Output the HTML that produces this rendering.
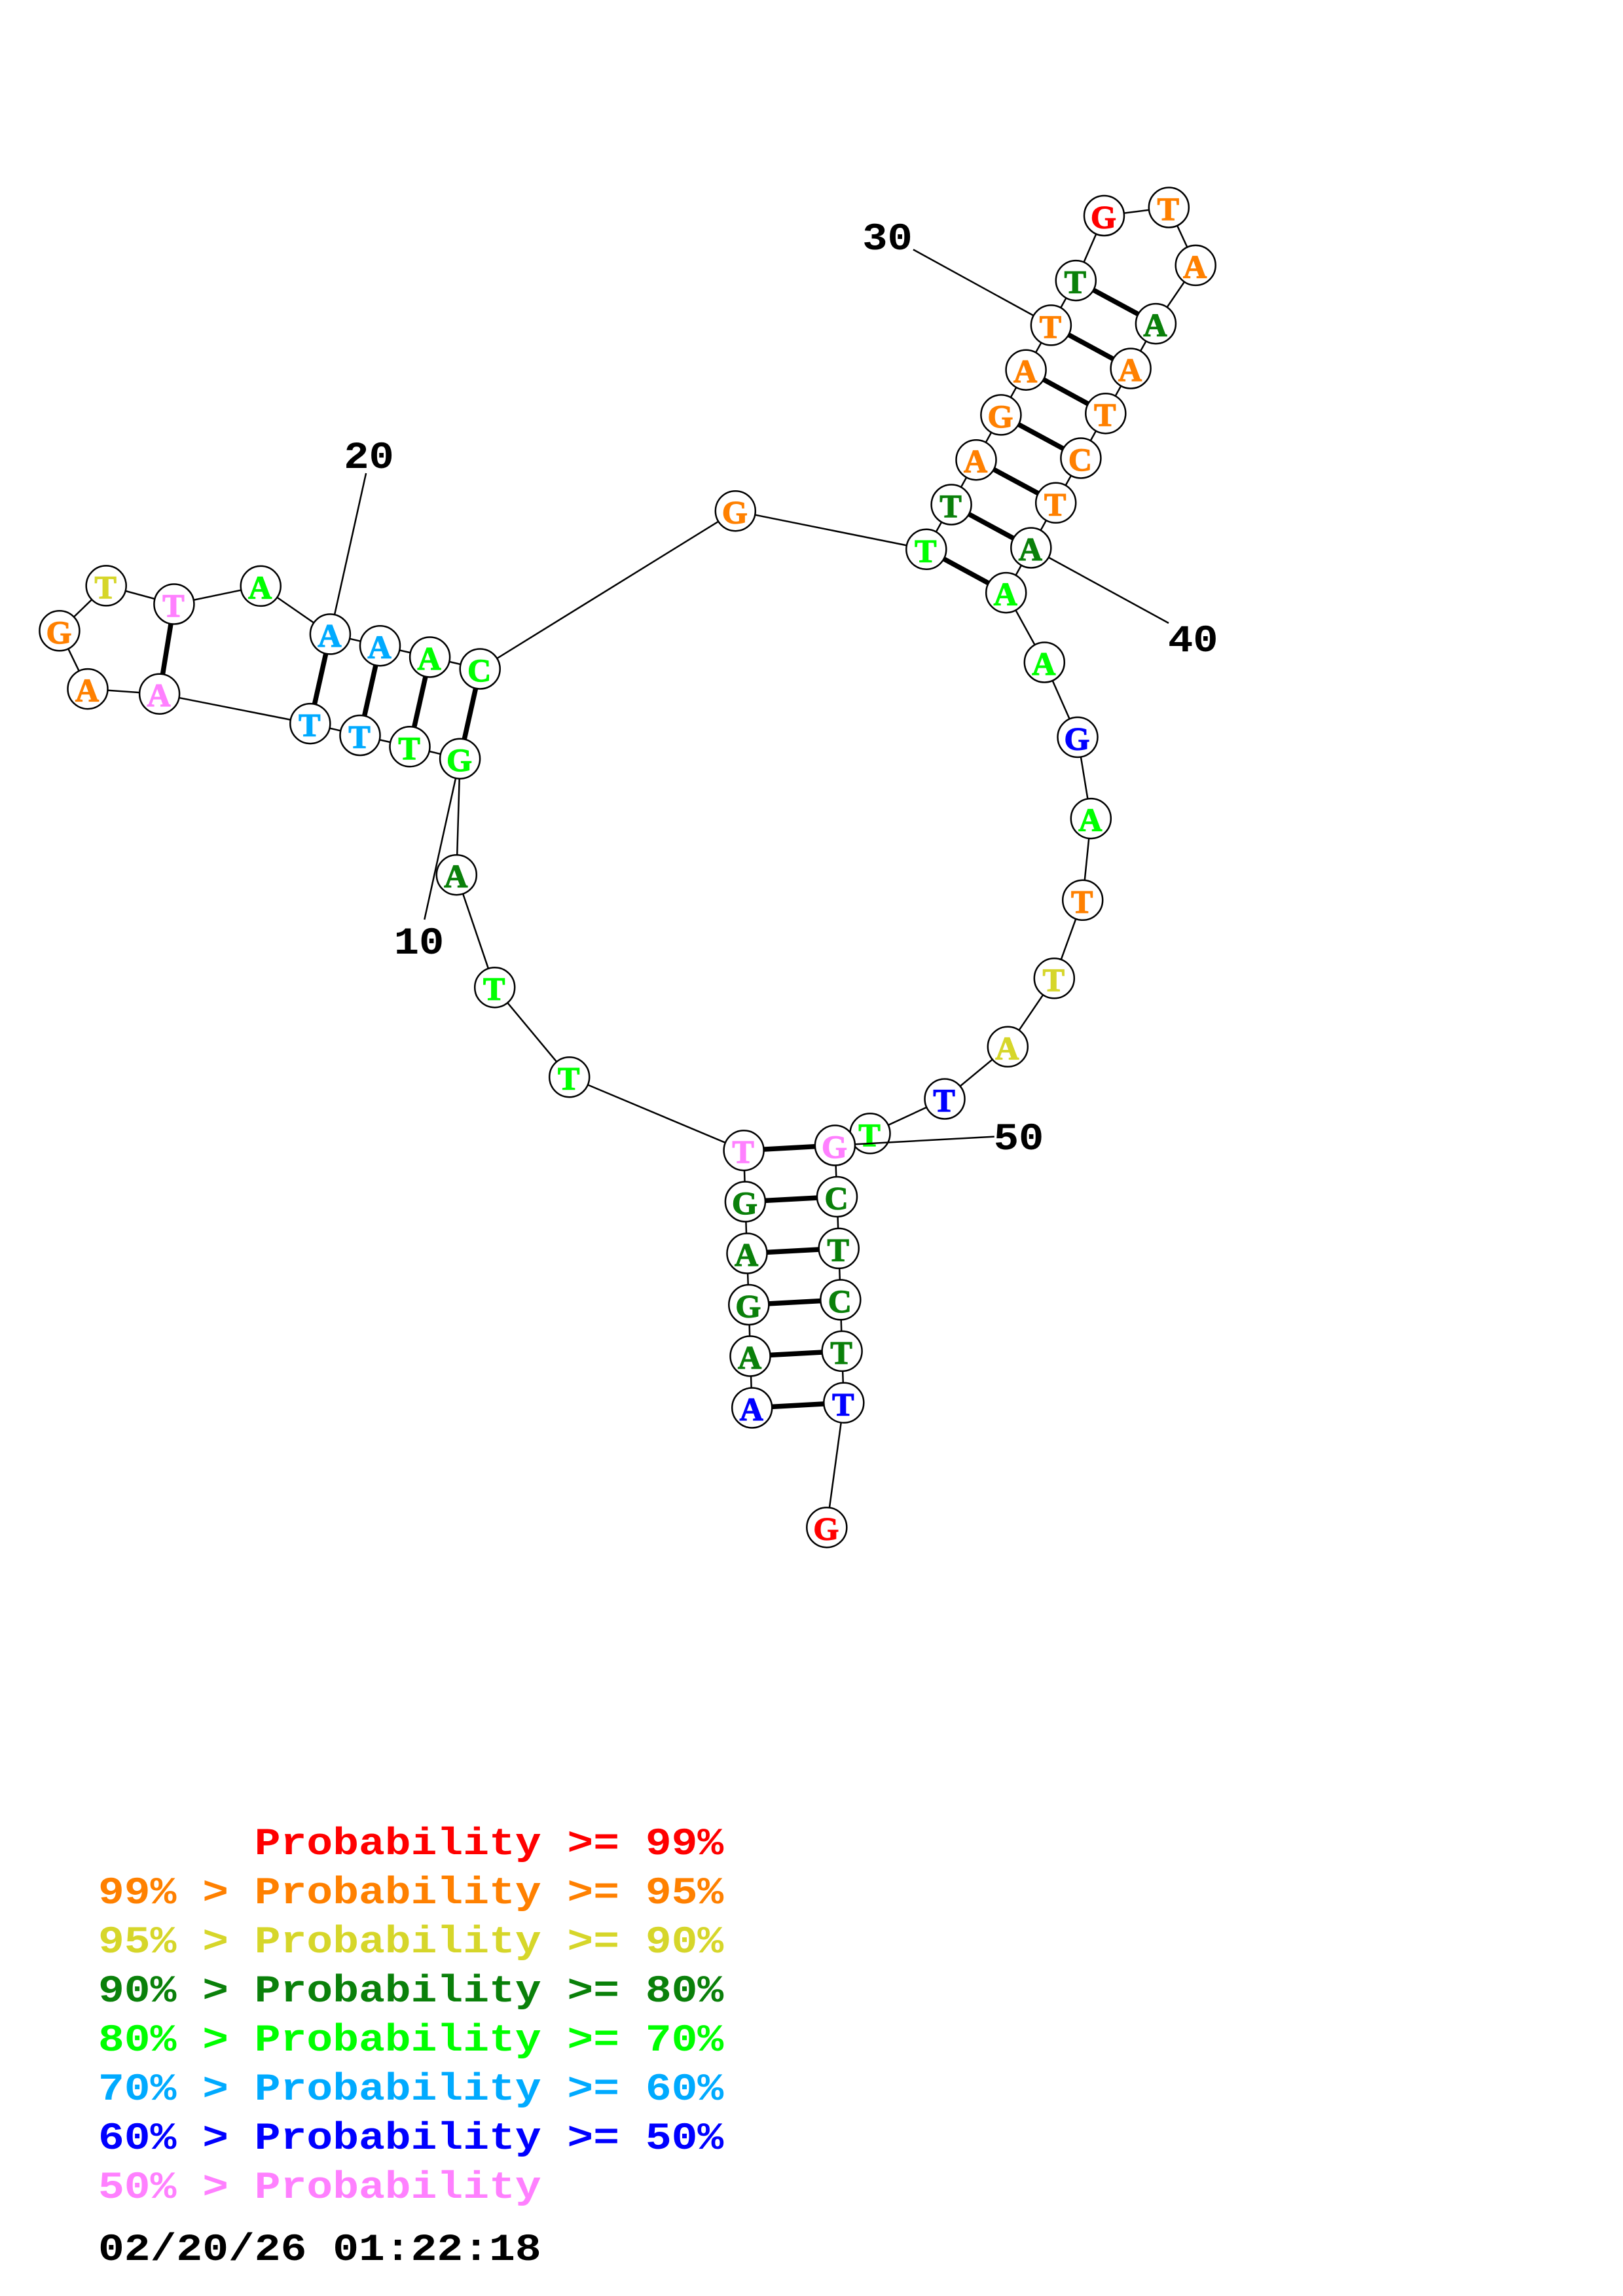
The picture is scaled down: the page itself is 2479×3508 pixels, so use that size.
<!DOCTYPE html>
<html><head><meta charset="utf-8"><title>Probability structure</title>
<style>
html,body{margin:0;padding:0;background:#fff}
svg{display:block}
text{font-family:"Liberation Mono",monospace;font-weight:bold}
.n circle{fill:#fff;stroke:#000;stroke-width:2.5}
.n text{font-family:"Liberation Serif",serif;font-size:50px;text-anchor:middle;stroke-width:1.3}
.l text,.k text{font-size:58px;white-space:pre;stroke-width:0}
.l text{fill:#000;text-anchor:middle;transform:scale(1.1,1)}
.k text{transform:scale(1.1437,1)}
.r{fill:#ff0000;stroke:#ff0000}.o{fill:#ff8000;stroke:#ff8000}.y{fill:#d6d62a;stroke:#d6d62a}.d{fill:#0a800a;stroke:#0a800a}.g{fill:#00ff00;stroke:#00ff00}.b{fill:#00aaff;stroke:#00aaff}.v{fill:#0000ff;stroke:#0000ff}.p{fill:#ff80ff;stroke:#ff80ff}
</style></head><body>
<svg width="2479" height="3508" viewBox="0 0 2479 3508" xmlns="http://www.w3.org/2000/svg">
<rect width="2479" height="3508" fill="#fff"/>
<polyline fill="none" stroke="#000" stroke-width="2.5" points="1148.7,2151 1146,2072 1143.8,1993.5 1141,1915 1138.4,1836 1136.1,1757.7 869.7,1645.7 755.7,1508.7 697.3,1336.7 702.6,1159.2 626,1140.8 550,1123.5 473.8,1105.6 243.6,1060.2 134,1052.6 90.9,963.8 162.2,894.9 265.9,923 398.2,895.4 504.4,968.9 580.5,986.7 656.6,1004 733.2,1022 1123.3,780.7 1414.8,839.3 1453.1,771 1491,702.7 1528.9,633.9 1567.1,565.2 1605.4,496.9 1643.3,428.6 1686.5,329.5 1785.3,317 1826.2,405.4 1765.4,494.6 1727.1,563 1688.8,631.7 1650.9,700 1612.7,768.3 1574.8,837 1536.7,905.6 1595.3,1012 1646,1126.4 1666.3,1250.6 1653.7,1375.3 1610.3,1494.8 1539.3,1599.3 1443,1679 1329,1731.8 1275.4,1750 1278.5,1828.5 1281.2,1907.4 1283.8,1985.9 1286.1,2064.4 1288.8,2143.3 1262.8,2333.7"/>
<g stroke="#000" stroke-width="7.5">
<line x1="1148.7" y1="2151" x2="1288.8" y2="2143.3"/>
<line x1="1146" y1="2072" x2="1286.1" y2="2064.4"/>
<line x1="1143.8" y1="1993.5" x2="1283.8" y2="1985.9"/>
<line x1="1141" y1="1915" x2="1281.2" y2="1907.4"/>
<line x1="1138.4" y1="1836" x2="1278.5" y2="1828.5"/>
<line x1="1136.1" y1="1757.7" x2="1275.4" y2="1750"/>
<line x1="702.6" y1="1159.2" x2="733.2" y2="1022"/>
<line x1="626" y1="1140.8" x2="656.6" y2="1004"/>
<line x1="550" y1="1123.5" x2="580.5" y2="986.7"/>
<line x1="473.8" y1="1105.6" x2="504.4" y2="968.9"/>
<line x1="243.6" y1="1060.2" x2="265.9" y2="923"/>
<line x1="1414.8" y1="839.3" x2="1536.7" y2="905.6"/>
<line x1="1453.1" y1="771" x2="1574.8" y2="837"/>
<line x1="1491" y1="702.7" x2="1612.7" y2="768.3"/>
<line x1="1528.9" y1="633.9" x2="1650.9" y2="700"/>
<line x1="1567.1" y1="565.2" x2="1688.8" y2="631.7"/>
<line x1="1605.4" y1="496.9" x2="1727.1" y2="563"/>
<line x1="1643.3" y1="428.6" x2="1765.4" y2="494.6"/>
</g>
<g stroke="#000" stroke-width="2.5">
<line x1="702.6" y1="1159.2" x2="648.3" y2="1405"/>
<line x1="504.4" y1="968.9" x2="559.1" y2="723"/>
<line x1="1605.4" y1="496.9" x2="1394.9" y2="381.3"/>
<line x1="1574.8" y1="837" x2="1785" y2="952"/>
</g>
<g class="n">
<g transform="translate(1148.7,2151)"><circle r="30.5"/><text class="v" x="-1" y="19">A</text></g>
<g transform="translate(1146,2072)"><circle r="30.5"/><text class="d" x="-1" y="19">A</text></g>
<g transform="translate(1143.8,1993.5)"><circle r="30.5"/><text class="d" x="-1" y="19">G</text></g>
<g transform="translate(1141,1915)"><circle r="30.5"/><text class="d" x="-1" y="19">A</text></g>
<g transform="translate(1138.4,1836)"><circle r="30.5"/><text class="d" x="-1" y="19">G</text></g>
<g transform="translate(1136.1,1757.7)"><circle r="30.5"/><text class="p" x="-1" y="19">T</text></g>
<g transform="translate(869.7,1645.7)"><circle r="30.5"/><text class="g" x="-1" y="19">T</text></g>
<g transform="translate(755.7,1508.7)"><circle r="30.5"/><text class="g" x="-1" y="19">T</text></g>
<g transform="translate(697.3,1336.7)"><circle r="30.5"/><text class="d" x="-1" y="19">A</text></g>
<g transform="translate(702.6,1159.2)"><circle r="30.5"/><text class="g" x="-1" y="19">G</text></g>
<g transform="translate(626,1140.8)"><circle r="30.5"/><text class="g" x="-1" y="19">T</text></g>
<g transform="translate(550,1123.5)"><circle r="30.5"/><text class="b" x="-1" y="19">T</text></g>
<g transform="translate(473.8,1105.6)"><circle r="30.5"/><text class="b" x="-1" y="19">T</text></g>
<g transform="translate(243.6,1060.2)"><circle r="30.5"/><text class="p" x="-1" y="19">A</text></g>
<g transform="translate(134,1052.6)"><circle r="30.5"/><text class="o" x="-1" y="19">A</text></g>
<g transform="translate(90.9,963.8)"><circle r="30.5"/><text class="o" x="-1" y="19">G</text></g>
<g transform="translate(162.2,894.9)"><circle r="30.5"/><text class="y" x="-1" y="19">T</text></g>
<g transform="translate(265.9,923)"><circle r="30.5"/><text class="p" x="-1" y="19">T</text></g>
<g transform="translate(398.2,895.4)"><circle r="30.5"/><text class="g" x="-1" y="19">A</text></g>
<g transform="translate(504.4,968.9)"><circle r="30.5"/><text class="b" x="-1" y="19">A</text></g>
<g transform="translate(580.5,986.7)"><circle r="30.5"/><text class="b" x="-1" y="19">A</text></g>
<g transform="translate(656.6,1004)"><circle r="30.5"/><text class="g" x="-1" y="19">A</text></g>
<g transform="translate(733.2,1022)"><circle r="30.5"/><text class="g" x="-1" y="19">C</text></g>
<g transform="translate(1123.3,780.7)"><circle r="30.5"/><text class="o" x="-1" y="19">G</text></g>
<g transform="translate(1414.8,839.3)"><circle r="30.5"/><text class="g" x="-1" y="19">T</text></g>
<g transform="translate(1453.1,771)"><circle r="30.5"/><text class="d" x="-1" y="19">T</text></g>
<g transform="translate(1491,702.7)"><circle r="30.5"/><text class="o" x="-1" y="19">A</text></g>
<g transform="translate(1528.9,633.9)"><circle r="30.5"/><text class="o" x="-1" y="19">G</text></g>
<g transform="translate(1567.1,565.2)"><circle r="30.5"/><text class="o" x="-1" y="19">A</text></g>
<g transform="translate(1605.4,496.9)"><circle r="30.5"/><text class="o" x="-1" y="19">T</text></g>
<g transform="translate(1643.3,428.6)"><circle r="30.5"/><text class="d" x="-1" y="19">T</text></g>
<g transform="translate(1686.5,329.5)"><circle r="30.5"/><text class="r" x="-1" y="19">G</text></g>
<g transform="translate(1785.3,317)"><circle r="30.5"/><text class="o" x="-1" y="19">T</text></g>
<g transform="translate(1826.2,405.4)"><circle r="30.5"/><text class="o" x="-1" y="19">A</text></g>
<g transform="translate(1765.4,494.6)"><circle r="30.5"/><text class="d" x="-1" y="19">A</text></g>
<g transform="translate(1727.1,563)"><circle r="30.5"/><text class="o" x="-1" y="19">A</text></g>
<g transform="translate(1688.8,631.7)"><circle r="30.5"/><text class="o" x="-1" y="19">T</text></g>
<g transform="translate(1650.9,700)"><circle r="30.5"/><text class="o" x="-1" y="19">C</text></g>
<g transform="translate(1612.7,768.3)"><circle r="30.5"/><text class="o" x="-1" y="19">T</text></g>
<g transform="translate(1574.8,837)"><circle r="30.5"/><text class="d" x="-1" y="19">A</text></g>
<g transform="translate(1536.7,905.6)"><circle r="30.5"/><text class="g" x="-1" y="19">A</text></g>
<g transform="translate(1595.3,1012)"><circle r="30.5"/><text class="g" x="-1" y="19">A</text></g>
<g transform="translate(1646,1126.4)"><circle r="30.5"/><text class="v" x="-1" y="19">G</text></g>
<g transform="translate(1666.3,1250.6)"><circle r="30.5"/><text class="g" x="-1" y="19">A</text></g>
<g transform="translate(1653.7,1375.3)"><circle r="30.5"/><text class="o" x="-1" y="19">T</text></g>
<g transform="translate(1610.3,1494.8)"><circle r="30.5"/><text class="y" x="-1" y="19">T</text></g>
<g transform="translate(1539.3,1599.3)"><circle r="30.5"/><text class="y" x="-1" y="19">A</text></g>
<g transform="translate(1443,1679)"><circle r="30.5"/><text class="v" x="-1" y="19">T</text></g>
<g transform="translate(1329,1731.8)"><circle r="30.5"/><text class="g" x="-1" y="19">T</text></g>
<line x1="1275.4" y1="1750" x2="1518.8" y2="1736.6" stroke="#000" stroke-width="2.5"/>
<g transform="translate(1275.4,1750)"><circle r="30.5"/><text class="p" x="-1" y="19">G</text></g>
<g transform="translate(1278.5,1828.5)"><circle r="30.5"/><text class="d" x="-1" y="19">C</text></g>
<g transform="translate(1281.2,1907.4)"><circle r="30.5"/><text class="d" x="-1" y="19">T</text></g>
<g transform="translate(1283.8,1985.9)"><circle r="30.5"/><text class="d" x="-1" y="19">C</text></g>
<g transform="translate(1286.1,2064.4)"><circle r="30.5"/><text class="d" x="-1" y="19">T</text></g>
<g transform="translate(1288.8,2143.3)"><circle r="30.5"/><text class="v" x="-1" y="19">T</text></g>
<g transform="translate(1262.8,2333.7)"><circle r="30.5"/><text class="r" x="-1" y="19">G</text></g>
</g>
<g class="l">
<g transform="translate(640,1457)"><text>10</text></g>
<g transform="translate(563.5,715)"><text>20</text></g>
<g transform="translate(1355.5,381)"><text>30</text></g>
<g transform="translate(1822.3,995)"><text>40</text></g>
<g transform="translate(1556,1756)"><text>50</text></g>
</g>
<g class="k">
<g transform="translate(150,2833)"><text class="r" xml:space="preserve">      Probability &gt;= 99%</text></g>
<g transform="translate(150,2908)"><text class="o" xml:space="preserve">99% &gt; Probability &gt;= 95%</text></g>
<g transform="translate(150,2983)"><text class="y" xml:space="preserve">95% &gt; Probability &gt;= 90%</text></g>
<g transform="translate(150,3058)"><text class="d" xml:space="preserve">90% &gt; Probability &gt;= 80%</text></g>
<g transform="translate(150,3133)"><text class="g" xml:space="preserve">80% &gt; Probability &gt;= 70%</text></g>
<g transform="translate(150,3208)"><text class="b" xml:space="preserve">70% &gt; Probability &gt;= 60%</text></g>
<g transform="translate(150,3283)"><text class="v" xml:space="preserve">60% &gt; Probability &gt;= 50%</text></g>
<g transform="translate(150,3358)"><text class="p" xml:space="preserve">50% &gt; Probability</text></g>
<g transform="translate(150,3453)"><text fill="#000" xml:space="preserve">02/20/26 01:22:18</text></g>
</g>
</svg>
</body></html>
